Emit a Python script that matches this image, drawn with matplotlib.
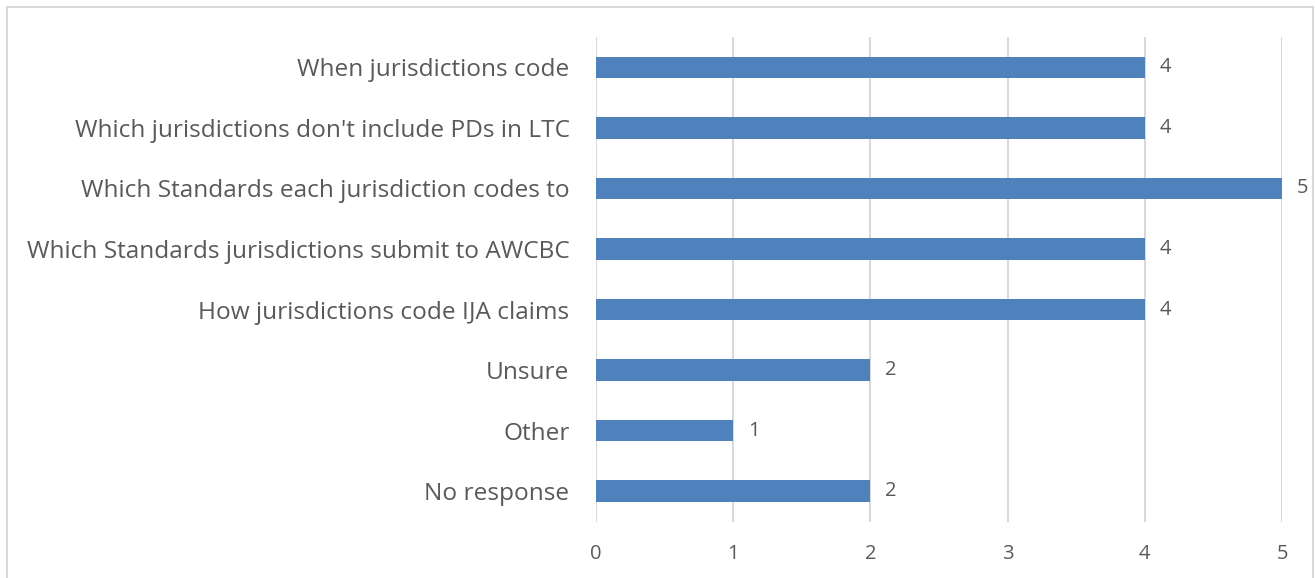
import matplotlib.pyplot as plt
from matplotlib.patches import Rectangle

categorias = ["When jurisdictions code",
              "Which jurisdictions don't include PDs in LTC",
              "Which Standards each jurisdiction codes to",
              "Which Standards jurisdictions submit to AWCBC",
              "How jurisdictions code IJA claims",
              "Unsure",
              "Other",
              "No response"]
valores = [4, 4, 5, 4, 4, 2, 1, 2]
ticks_x = [0, 1, 2, 3, 4, 5]

plt.rcParams['font.family'] = ['Open Sans', 'DejaVu Sans']
gris = "#595959"

fig = plt.figure(figsize=(13.15, 5.78), dpi=100)
# marco gris claro del grafico
fig.patches.append(Rectangle((7/1315, -0.05), 1306/1315, 1.05 - 7/578,
                             transform=fig.transFigure, fill=False,
                             edgecolor="#d9d9d9", linewidth=1.5))
ax = fig.add_axes([596/1315, 1 - 521.5/578, 686/1315, 484.5/578])

y = list(range(len(categorias)))
ax.barh(y, valores, height=0.355, color="#4F81BD", zorder=3)
for yi, v in zip(y, valores):
    ax.annotate(str(v), (v, yi), xytext=(15, 0), textcoords="offset pixels",
                va="center", ha="left", fontsize=14.5, color=gris)

ax.set_ylim(len(categorias) - 0.5, -0.5)
ax.set_xlim(0, 5)
ax.set_xticks(ticks_x)
ax.set_yticks(y)
ax.set_yticklabels(categorias, fontsize=17.6, color=gris)
ax.tick_params(axis="y", length=0, pad=19)
ax.tick_params(axis="x", length=0, pad=16, labelsize=14.5, labelcolor=gris)
ax.grid(axis="x", color="#d9d9d9", linewidth=1.5, zorder=0)
for s in ax.spines.values():
    s.set_visible(False)

fig.savefig("out.png", dpi=100)
